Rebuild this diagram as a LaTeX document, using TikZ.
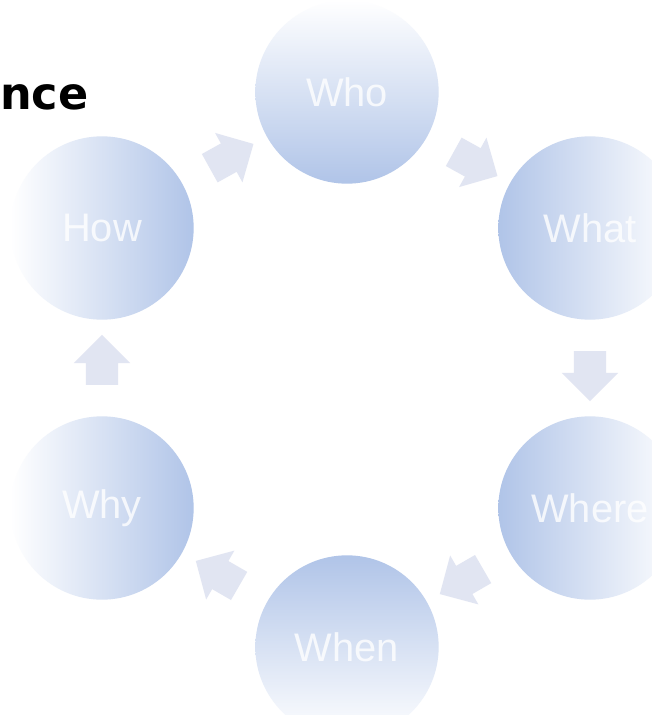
\documentclass[tikz,border=0pt]{standalone}
\usepackage{fontspec}
\newfontfamily\bubblefont{Liberation Sans}
\newfontfamily\headfont{DejaVu Sans}
\usetikzlibrary{shapes.arrows,calc}
\definecolor{bubbleblue}{RGB}{176,196,232}
\definecolor{arrowgrey}{RGB}{225,229,242}

\begin{document}
\begin{tikzpicture}[
  x=0.03cm,y=-0.03cm,
  bubble/.style={circle,minimum size=5.5cm,inner sep=0pt,text=white,text opacity=0.8,
    font=\bubblefont\fontsize{34}{40}\selectfont},
  darkbottom/.style={bubble,top color=white,bottom color=bubbleblue},
  darktop/.style={bubble,top color=bubbleblue,bottom color=white},
  darkleft/.style={bubble,left color=bubbleblue,right color=white},
  darkright/.style={bubble,left color=white,right color=bubbleblue},
  flowarrow/.style={single arrow,fill=arrowgrey,inner xsep=0pt,inner ysep=0.48cm,
    minimum height=1.5cm,single arrow head extend=0.36cm} % <-- flèches pleines
]
\useasboundingbox (0,0) rectangle (652,715);
\fill[white] (0,0) rectangle (652,715);
\clip (0,0) rectangle (652,715);

\node[anchor=base west,inner sep=0pt,font=\headfont\bfseries\fontsize{38}{44}\selectfont] (title) at (0,109) {nce};

\node[darkbottom] (who) at (347,92) {Who};
\node[darkleft] (what) at (590,228) {What};
\node[darkleft] (where) at (590,508) {Where};
\node[darktop] (when) at (347,647) {When};
\node[darkright] (why) at (102,508) {Why};
\node[darkright] (how) at (102,228) {How};

\node[flowarrow,rotate=29] (howwho) at ($(how)!0.5!(who)$) {};
\node[flowarrow,rotate=-29] (whowhat) at ($(who)!0.5!(what)$) {};
\node[flowarrow,rotate=-90] (whatwhere) at ($(what)!0.5!(where)$) {};
\node[flowarrow,rotate=-150] (wherewhen) at ($(where)!0.5!(when)$) {};
\node[flowarrow,rotate=150] (whenwhy) at ($(when)!0.5!(why)$) {};
\node[flowarrow,rotate=90] (whyhow) at ($(why)!0.5!(how)$) {};

\end{tikzpicture}
\end{document}
